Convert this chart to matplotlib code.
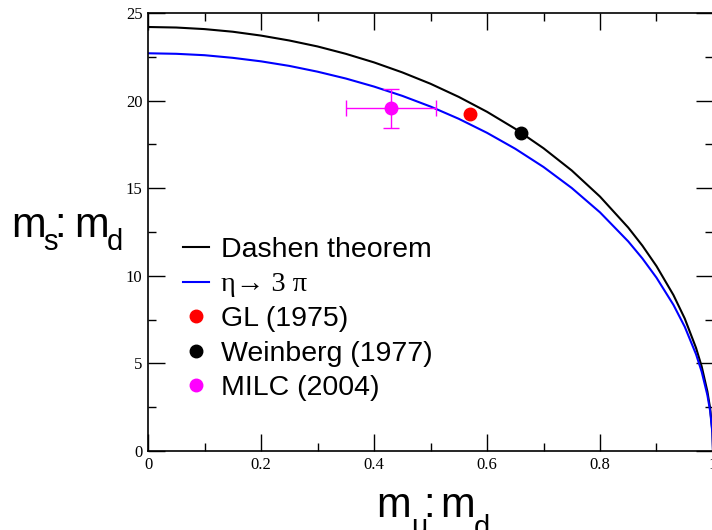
import matplotlib.pyplot as plt
from matplotlib.ticker import MultipleLocator

# values
ratio_ud = [0.0, 0.05, 0.1, 0.15, 0.2, 0.25, 0.3, 0.35, 0.4, 0.45, 0.5, 0.55, 0.6,
            0.65, 0.7, 0.75, 0.8, 0.85, 0.875, 0.9, 0.93, 0.95, 0.97, 0.98, 0.99,
            0.995, 0.999, 1.0]
dashen = [24.20, 24.17, 24.08, 23.93, 23.71, 23.43, 23.09, 22.67, 22.18, 21.61, 20.96,
          20.21, 19.36, 18.39, 17.28, 16.01, 14.52, 12.75, 11.72, 10.55, 8.90, 7.56,
          5.88, 4.82, 3.41, 2.42, 1.08, 0.0]
eta3pi = [22.70, 22.67, 22.59, 22.44, 22.24, 21.98, 21.65, 21.26, 20.80, 20.27, 19.66,
          18.96, 18.16, 17.25, 16.21, 15.01, 13.62, 11.96, 10.99, 9.89, 8.34, 7.09,
          5.52, 4.52, 3.20, 2.27, 1.01, 0.0]

gl_x, gl_y = 0.57, 19.25
weinberg_x, weinberg_y = 0.66, 18.15
milc_x, milc_y = 0.43, 19.55
milc_xerr, milc_yerr = 0.08, 1.12

W, H = 712, 530
fig = plt.figure(figsize=(W / 100, H / 100), dpi=100)
ax = fig.add_axes([0.2079, 0.1491, 0.7935, 0.8264])

ax.plot(ratio_ud, dashen, color='black', lw=1.5, label='Dashen theorem')
ax.plot(ratio_ud, eta3pi, color='#0000ff', lw=1.5, label='η→ 3 π')
ax.plot(gl_x, gl_y, 'o', color='red', ms=9, ls='none', label='GL (1975)')
ax.plot(weinberg_x, weinberg_y, 'o', color='black', ms=9, ls='none', label='Weinberg (1977)')
ax.errorbar(milc_x, milc_y, xerr=milc_xerr, yerr=milc_yerr, fmt='none',
            ecolor='magenta', elinewidth=1, capsize=6, capthick=1)
ax.plot(milc_x, milc_y, 'o', color='magenta', ms=9, ls='none', label='MILC (2004)')

ax.set_xlim(0, 1)
ax.set_ylim(0, 25)
ax.xaxis.set_minor_locator(MultipleLocator(0.1))
ax.yaxis.set_major_locator(MultipleLocator(5))
ax.yaxis.set_minor_locator(MultipleLocator(2.5))
ax.set_xticks([0, 0.2, 0.4, 0.6, 0.8, 1.0])
ax.set_xticklabels(['0', '0.2', '0.4', '0.6', '0.8', '1'])
ax.tick_params(which='both', direction='in', top=True, right=True, width=1)
ax.tick_params(which='major', length=12, pad=4)
ax.tick_params(which='minor', length=6)
for lab in ax.get_xticklabels() + ax.get_yticklabels():
    lab.set_fontfamily('Liberation Serif')
    lab.set_fontsize(12)
for sp in ax.spines.values():
    sp.set_linewidth(1.2)

# axis titles written piece by piece so the subscripts sit low like the original
big, small = 30, 21


def put(x, y, s, size):
    fig.text(x / W, 1 - y / H, s, fontsize=size, family='Liberation Sans',
             ha='left', va='baseline')


for x, y, s, size in [(11, 237, 'm', big), (43, 250, 's', small), (54, 237, ':', big),
                      (74, 237, 'm', big), (107, 250, 'd', small)]:
    put(x, y, s, size)
for x, y, s, size in [(376, 517, 'm', big), (411, 535, 'u', small), (423, 517, ':', big),
                      (440, 517, 'm', big), (474, 536, 'd', small)]:
    put(x, y, s, size)

leg = ax.legend(loc='upper left', bbox_to_anchor=(183 / W, 1 - 237 / H),
                bbox_transform=fig.transFigure, frameon=False,
                prop={'family': 'Liberation Sans', 'size': 20.5},
                handlelength=0.9, handletextpad=0.45, labelspacing=0.3,
                borderpad=0, borderaxespad=0)
leg.get_texts()[1].set_fontfamily(['Liberation Serif', 'DejaVu Serif'])

fig.savefig('out.png', dpi=100)
